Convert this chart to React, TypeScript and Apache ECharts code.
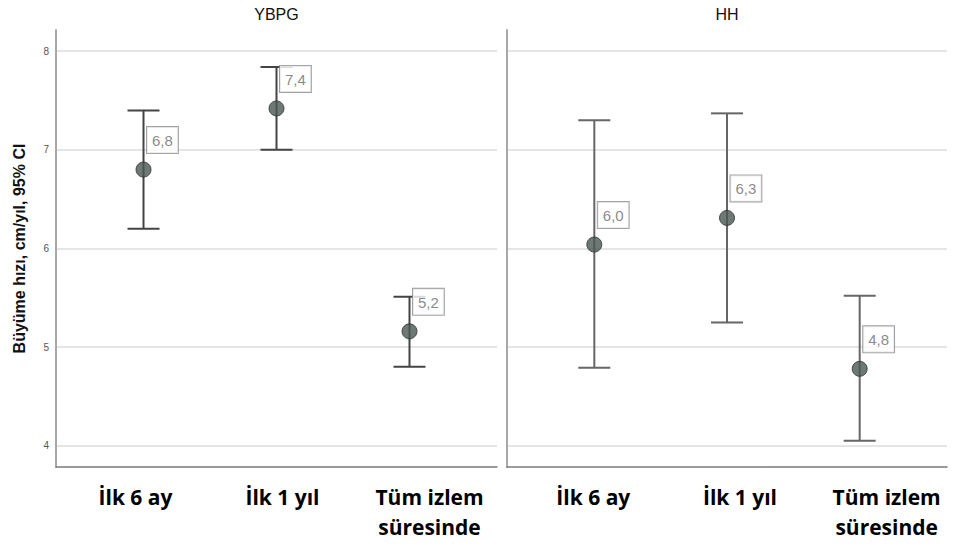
import React, { useEffect, useRef } from "react";
import * as echarts from "echarts";

// Growth velocity (cm/yıl) with 95% confidence intervals, two patient groups
const categories = ["İlk 6 ay", "İlk 1 yıl", "Tüm izlem\nsüresinde"];
const panelTitles = ["YBPG", "HH"];

const ybpgMean = [6.8, 7.42, 5.16];
const ybpgLow = [6.2, 7.0, 4.8];
const ybpgHigh = [7.4, 7.84, 5.51];

const hhMean = [6.04, 6.31, 4.78];
const hhLow = [4.79, 5.25, 4.05];
const hhHigh = [7.3, 7.37, 5.52];

const yTicks = [4, 5, 6, 7, 8];
const yName = "Büyüme hızı, cm/yıl, 95% CI";

const Y_MIN = 3.785;
const Y_MAX = 8.215;
const X_MIN = 0.342;
const X_MAX = 3.658;

const GRID_TOP = 30;
const GRID_H = 437;
const grids = [
  { left: 56, top: GRID_TOP, width: 441, height: GRID_H },
  { left: 507, top: GRID_TOP, width: 440, height: GRID_H },
];

const errorBarRenderer = (color: string) => (params: any, api: any) => {
  const x = api.value(0);
  const lo = api.coord([x, api.value(1)]);
  const hi = api.coord([x, api.value(2)]);
  const half = 16;
  const style = { stroke: color, lineWidth: 2 };
  return {
    type: "group",
    children: [
      { type: "line", shape: { x1: lo[0], y1: lo[1], x2: hi[0], y2: hi[1] }, style },
      { type: "line", shape: { x1: hi[0] - half, y1: hi[1], x2: hi[0] + half, y2: hi[1] }, style },
      { type: "line", shape: { x1: lo[0] - half, y1: lo[1], x2: lo[0] + half, y2: lo[1] }, style },
    ],
  };
};

export default function App() {
  const ref = useRef<HTMLDivElement>(null);

  useEffect(() => {
    if (!ref.current) return;
    const chart = echarts.init(ref.current, undefined, { renderer: "svg" });

    const panels = [
      { mean: ybpgMean, low: ybpgLow, high: ybpgHigh, barColor: "#444444" },
      { mean: hhMean, low: hhLow, high: hhHigh, barColor: "#666666" },
    ];

    const pos = categories.map((_, i) => i + 1);

    const series: any[] = [];
    panels.forEach((p, i) => {
      series.push({
        type: "custom",
        xAxisIndex: i,
        yAxisIndex: i,
        z: 2,
        renderItem: errorBarRenderer(p.barColor),
        encode: { x: 0, y: [1, 2] },
        data: pos.map((x, k) => [x, p.low[k], p.high[k]]),
      });
      series.push({
        type: "scatter",
        xAxisIndex: i,
        yAxisIndex: i,
        z: 3,
        symbol: "circle",
        symbolSize: 15,
        itemStyle: { color: "#4a5652", borderColor: "#2a302e", borderWidth: 1 },
        label: {
          show: true,
          position: [11.5, -8.5],
          align: "left",
          verticalAlign: "bottom",
          formatter: (prm: any) => prm.value[1].toFixed(1).replace(".", ","),
          backgroundColor: "#ffffff",
          borderColor: "#8a8a8a",
          borderWidth: 1,
          padding: [6, 5, 5, 5],
          color: "#6b6b6b",
          fontSize: 15,
          fontFamily: "Liberation Sans",
        },
        data: pos.map((x, k) => [x, p.mean[k]]),
      });
    });

    const valueXAxes = grids.map((_, i) => ({
      type: "value",
      gridIndex: i,
      min: X_MIN,
      max: X_MAX,
      show: false,
    }));

    const categoryXAxes = grids.map((_, i) => ({
      type: "category",
      gridIndex: i,
      data: categories,
      position: "bottom",
      axisLine: { show: true, lineStyle: { color: "#7a7a7a", width: 1.5 } },
      axisTick: { show: false },
      splitLine: { show: false },
      axisLabel: {
        interval: 0,
        margin: 15,
        color: "#000000",
        fontSize: 21,
        fontWeight: "bold",
        fontFamily: "Open Sans",
        lineHeight: 30,
        padding: i === 0 ? [0, 0, 0, 12] : [0, 0, 0, 26],
      },
    }));

    const yAxes = grids.map((_, i) => ({
      type: "value",
      gridIndex: i,
      min: Y_MIN,
      max: Y_MAX,
      name: i === 0 ? yName : "",
      nameLocation: "middle",
      nameGap: 29,
      nameTextStyle: {
        fontSize: 16,
        fontWeight: "bold",
        color: "#111111",
        fontFamily: "Liberation Sans",
      },
      axisLine: { show: true, lineStyle: { color: "#a8a8a8", width: 2 } },
      axisTick: { show: false },
      splitLine: {
        show: true,
        showMinLine: false,
        showMaxLine: false,
        lineStyle: { color: "#dcdcdc", width: 1.5 },
      },
      axisLabel: {
        show: i === 0,
        showMinLabel: false,
        showMaxLabel: false,
        margin: 7,
        fontSize: 10,
        color: "#555555",
        fontFamily: "Liberation Sans",
        formatter: (v: number) => (yTicks.includes(Math.round(v * 1000) / 1000) ? String(v) : ""),
      },
    }));

    const titles = grids.map((g, i) => ({
      type: "text",
      x: g.left + g.width / 2,
      y: 6,
      style: {
        text: panelTitles[i],
        align: "center",
        verticalAlign: "top",
        fontSize: 16,
        fontFamily: "Liberation Sans",
        fill: "#111111",
      },
    }));

    chart.setOption({
      animation: false,
      backgroundColor: "#ffffff",
      grid: grids,
      xAxis: [...valueXAxes, ...categoryXAxes],
      yAxis: yAxes,
      graphic: titles,
      series,
    });

    return () => chart.dispose();
  }, []);

  return (
    <div
      ref={ref}
      style={{ position: "fixed", left: 0, top: 0, width: 954, height: 548, background: "#fff" }}
    />
  );
}
